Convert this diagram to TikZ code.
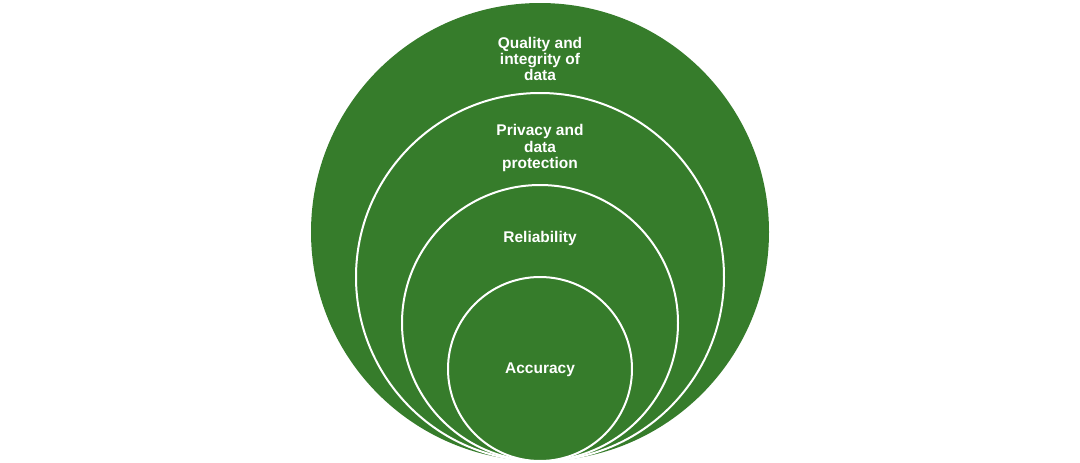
\documentclass[tikz,border=0pt]{standalone}
\usepackage{fontspec}
\setmainfont{Liberation Sans}
\definecolor{leaf}{HTML}{367C2B}
\begin{document}
\begin{tikzpicture}[x=1pt,y=-1pt,
  ring/.style={circle,fill=leaf,draw=white,line width=2pt,inner sep=0pt},
  lbl/.style={text=white,font=\bfseries\fontsize{15.5}{16.3}\selectfont,align=center}]
\useasboundingbox (0,0) rectangle (1080,463);
\fill[leaf] (540,232) circle (229);
\node[ring,minimum size=368pt] (c2) at (540,277) {};
\node[ring,minimum size=276pt] (c3) at (540,323) {};
\node[ring,minimum size=184pt] (c4) at (540,369) {};
\node[lbl] (t1) at (540,59) {Quality and\\integrity of\\data};
\node[lbl] (t2) at (540,148) {Privacy and\\data\\protection};
\node[lbl] (t3) at (540,238) {Reliability};
\node[lbl] (t4) at (540,370) {Accuracy};
\end{tikzpicture}
\end{document}
